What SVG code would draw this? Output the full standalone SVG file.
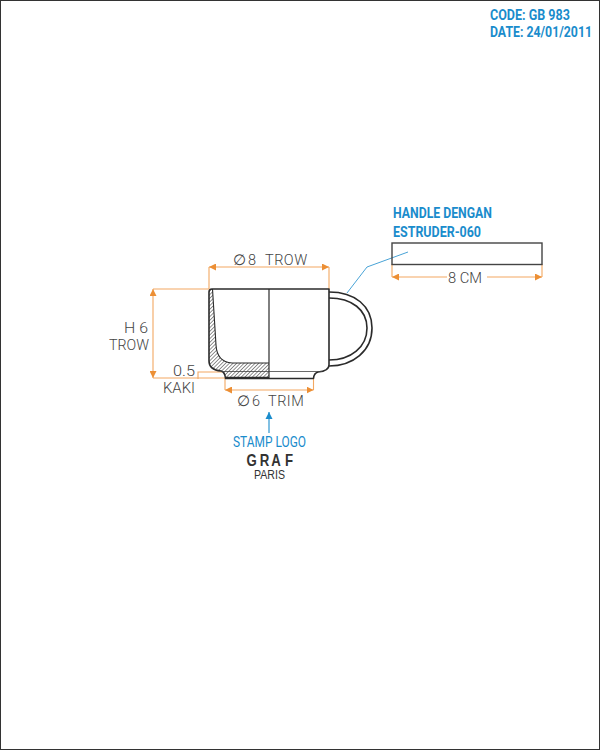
<svg xmlns="http://www.w3.org/2000/svg" width="600" height="750" viewBox="0 0 600 750">
<style>
.o{fill:none;stroke:#f3a862;stroke-width:1.1}
.cup{fill:none;stroke:#2b2b2b;stroke-width:1.6;stroke-linejoin:round}
.dim{font-family:"Roboto","Liberation Sans",sans-serif;font-size:14.500px;fill:#444;font-weight:300}
.blue{font-family:"Roboto","Liberation Sans",sans-serif;font-size:14.500px;font-weight:700;fill:#1a8ccc}
</style>
<defs>
<pattern id="hatch" width="2.600" height="2.600" patternUnits="userSpaceOnUse" patternTransform="rotate(-45)"><rect width="2.600" height="2.600" fill="#fff"/><rect width="2.600" height="0.800" fill="#777"/></pattern>
<marker id="a" viewBox="0 0 10 10" refX="10" refY="5" markerWidth="7" markerHeight="7" markerUnits="userSpaceOnUse" orient="auto-start-reverse"><path d="M0 0L10 5L0 10Z" fill="#ec8f35"/></marker>
<marker id="b" viewBox="0 0 10 10" refX="10" refY="5" markerWidth="7" markerHeight="9" markerUnits="userSpaceOnUse" orient="auto"><path d="M0 0L10 5L0 10Z" fill="#1a8ccc"/></marker>
</defs>
<rect x="0.500" y="0.500" width="599" height="749" fill="#fff" stroke="#333" stroke-width="1"/>
<g id="header">
<text class="blue" transform="translate(490 20) scale(.85 1)" textLength="94" lengthAdjust="spacingAndGlyphs">CODE: GB 983</text>
<text class="blue" transform="translate(490 37) scale(.85 1)" textLength="120" lengthAdjust="spacingAndGlyphs">DATE: 24/01/2011</text>
</g>
<g id="connectors">
<path class="o" d="M209 289V267M329 289V267"/>
<path class="o" d="M209 267H329" marker-start="url(#a)" marker-end="url(#a)"/>
<path class="o" d="M209 289H153M153 378H225"/>
<path class="o" d="M153 289V378" marker-start="url(#a)" marker-end="url(#a)"/>
<path class="o" d="M198 379V372H222"/>
<path class="o" d="M225 379V390M313.500 379V390"/>
<path class="o" d="M225 390H313.500" marker-start="url(#a)" marker-end="url(#a)"/>
<path class="o" d="M392 264V277M542 264V277"/>
<path class="o" d="M392 277H447" marker-start="url(#a)"/>
<path class="o" d="M487 277H542" marker-end="url(#a)"/>
<path d="M347 293L367 267L408 252" fill="none" stroke="#1a8ccc" stroke-width="0.800"/>
<path d="M269 433V412" fill="none" stroke="#1a8ccc" stroke-width="1.100" marker-end="url(#b)"/>
</g>
<g id="cup">
<path d="M209 289H212.500L216 345Q217 362 232 363H269V377H225.500Q225 372 221 371Q209 370 209 361Z" fill="url(#hatch)" stroke="none"/>
<path d="M212.500 289L216 345Q217 362 232 363H269" fill="none" stroke="#2b2b2b" stroke-width="1.100"/>
<path d="M212 289H329V365Q329 371 318 372Q314 373 313.500 378.500H225.500Q225 372 221 371Q209 370 209 361V292Q209 289 212 289Z" class="cup"/>
<path d="M269 289V378" fill="none" stroke="#2b2b2b" stroke-width="1.200"/>
<path d="M221 371.500H322" fill="none" stroke="#444" stroke-width="0.800"/>
<path d="M226 377.500H269" stroke="#2b2b2b" stroke-width="1.500"/>
<path d="M329 292C355 292 372 306 372 328C372 351 353 366 329 366" class="cup"/>
<path d="M329 298C352 298 367 310 367 328C367 347 351 360 329 360" class="cup"/>
</g>
<g id="handle-bar">
<rect x="392" y="243" width="150" height="21.500" fill="none" stroke="#444" stroke-width="1.400"/>
<text class="blue" transform="translate(393 218) scale(.85 1)" textLength="116.500" lengthAdjust="spacingAndGlyphs">HANDLE DENGAN</text>
<text class="blue" transform="translate(393 237) scale(.85 1)" textLength="103.500" lengthAdjust="spacingAndGlyphs">ESTRUDER-060</text>
</g>
<g id="labels">
<text class="dim" y="265"><tspan x="233">∅</tspan><tspan x="248">8 </tspan><tspan x="265" letter-spacing="0.500">TROW</tspan></text>
<text class="dim" x="124" y="333" textLength="24" lengthAdjust="spacingAndGlyphs">H 6</text>
<text class="dim" x="109" y="350" textLength="40" lengthAdjust="spacingAndGlyphs">TROW</text>
<text class="dim" x="173" y="376" textLength="22" lengthAdjust="spacingAndGlyphs">0.5</text>
<text class="dim" x="163" y="393" textLength="32" lengthAdjust="spacingAndGlyphs">KAKI</text>
<text class="dim" y="405.500"><tspan x="237">∅</tspan><tspan x="252">6 </tspan><tspan x="268" letter-spacing="0.500">TRIM</tspan></text>
<text class="dim" x="448" y="283" textLength="34" lengthAdjust="spacingAndGlyphs">8 CM</text>
</g>
<g id="stamp">
<text x="233" y="447" font-family="Roboto,'Liberation Sans',sans-serif" font-size="15" fill="#1a8ccc" textLength="73" lengthAdjust="spacingAndGlyphs">STAMP LOGO</text>
<text transform="translate(246.500 466) scale(.8 1)" x="0 16.500 31 48" font-family="'Liberation Sans',sans-serif" font-size="16.500" font-weight="700" fill="#333">GRAF</text>
<text x="254" y="479" font-family="'Liberation Sans',sans-serif" font-size="12" fill="#333" textLength="31" lengthAdjust="spacingAndGlyphs">PARIS</text>
</g>
</svg>
